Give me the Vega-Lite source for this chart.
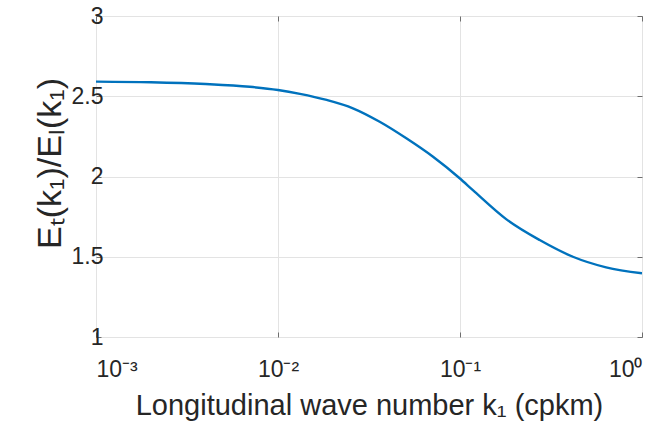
{
  "$schema": "https://vega.github.io/schema/vega-lite/v6.json",
  "autosize": {"type": "none"},
  "padding": {"left": 96, "top": 16, "right": 20, "bottom": 87},
  "width": 546,
  "height": 321,
  "background": "white",
  "config": {
    "view": {"stroke": "#6e6e6e", "strokeWidth": 1},
    "font": "Liberation Sans",
    "axis": {
      "labelFont": "Liberation Sans",
      "titleFont": "Liberation Sans",
      "labelColor": "#262626",
      "titleColor": "#262626",
      "labelFontSize": 23,
      "titleFontSize": 29,
      "titleFontWeight": "normal",
      "domain": false,
      "tickColor": "#6e6e6e",
      "gridColor": "#e3e3e3",
      "gridWidth": 1
    }
  },
  "data": {
    "values": [
      {"k": 0.001, "r": 2.591},
      {"k": 0.002, "r": 2.587},
      {"k": 0.004, "r": 2.576},
      {"k": 0.007, "r": 2.559},
      {"k": 0.01, "r": 2.539},
      {"k": 0.0132, "r": 2.515},
      {"k": 0.0185, "r": 2.477},
      {"k": 0.0258, "r": 2.425},
      {"k": 0.0362, "r": 2.341},
      {"k": 0.0507, "r": 2.238},
      {"k": 0.0711, "r": 2.123},
      {"k": 0.0996, "r": 1.989},
      {"k": 0.1177, "r": 1.915},
      {"k": 0.18, "r": 1.733},
      {"k": 0.274, "r": 1.604},
      {"k": 0.417, "r": 1.5},
      {"k": 0.635, "r": 1.434},
      {"k": 1.0, "r": 1.397}
    ]
  },
  "layer": [
    {
      "mark": {"type": "line", "color": "#0072BD", "strokeWidth": 2.4, "interpolate": "monotone", "clip": true},
      "encoding": {
        "x": {
          "field": "k", "type": "quantitative",
          "scale": {"type": "log", "domain": [0.001, 1], "nice": false},
          "axis": {
            "orient": "bottom",
            "values": [0.001, 0.01, 0.1, 1],
            "labelExpr": "datum.value < 0.005 ? '10⁻³' : datum.value < 0.05 ? '10⁻²' : datum.value < 0.5 ? '10⁻¹' : '10⁰'",
            "tickSize": -5,
            "labelBaseline": "alphabetic",
            "labelPadding": 44,
            "grid": true,
            "title": "Longitudinal wave number k₁ (cpkm)",
            "titlePadding": 10
          }
        },
        "y": {
          "field": "r", "type": "quantitative",
          "scale": {"domain": [1, 3], "nice": false, "zero": false},
          "axis": {
            "orient": "left",
            "values": [1, 1.5, 2, 2.5, 3],
            "labelExpr": "datum.value + ''",
            "tickSize": -5,
            "labelPadding": -2,
            "grid": true,
            "title": "Eₜ(k₁)/Eₗ(k₁)",
            "titleFontSize": 34,
            "titleY": 147,
            "titlePadding": 4
          }
        }
      }
    },
    {
      "mark": {"type": "line", "strokeOpacity": 0},
      "encoding": {
        "x": {
          "field": "k", "type": "quantitative",
          "scale": {"type": "log", "domain": [0.001, 1], "nice": false},
          "axis": {"orient": "top", "values": [0.001, 0.01, 0.1, 1], "labels": false, "tickSize": -5, "grid": false, "title": null}
        },
        "y": {
          "field": "r", "type": "quantitative",
          "scale": {"domain": [1, 3], "nice": false, "zero": false},
          "axis": {"orient": "right", "values": [1, 1.5, 2, 2.5, 3], "labels": false, "tickSize": -5, "grid": false, "title": null}
        }
      }
    }
  ],
  "resolve": {"axis": {"x": "independent", "y": "independent"}}
}
